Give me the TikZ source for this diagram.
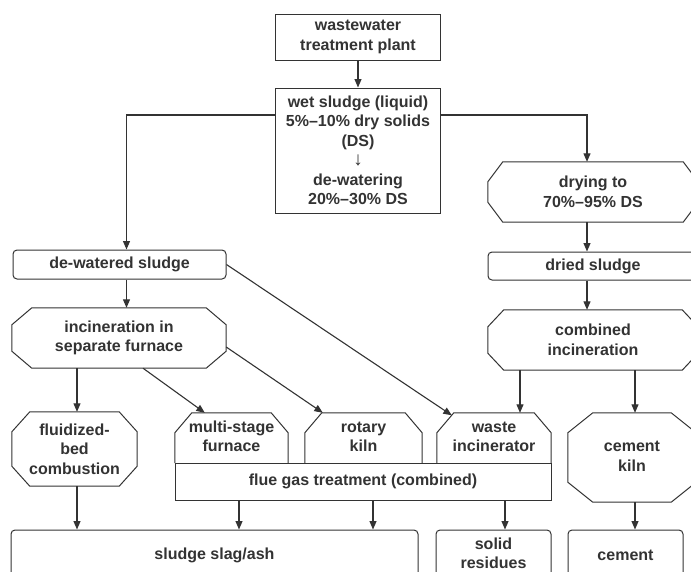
\documentclass[tikz,border=0pt]{standalone}
\usepackage{fontspec}
\setmainfont{Liberation Sans}
\usetikzlibrary{arrows.meta}
\definecolor{ink}{HTML}{333333}
\newcommand{\drawoct}[3]{\draw[boxline] ([xshift=#2]#1.north west) -- ([xshift=-#2]#1.north east) -- ([yshift=-#3]#1.north east) -- ([yshift=#3]#1.south east) -- ([xshift=-#2]#1.south east) -- ([xshift=#2]#1.south west) -- ([yshift=#3]#1.south west) -- ([yshift=-#3]#1.north west) -- cycle;}
\newcommand{\drawtopcham}[3]{\draw[boxline] (#1.south west) -- ([yshift=-#3]#1.north west) -- ([xshift=#2]#1.north west) -- ([xshift=-#2]#1.north east) -- ([yshift=-#3]#1.north east) -- (#1.south east);}
\newcommand{\shiftedtext}[2]{\raisebox{#1}{\begin{tabular}{@{}c@{}}#2\end{tabular}}}
\begin{document}
\begin{tikzpicture}[x=1pt,y=-1pt,
  txt/.style={font=\fontsize{16}{19.5}\selectfont\bfseries, text=ink, align=center, inner sep=0pt},
  box/.style={txt, draw=ink, line width=1pt, rectangle},
  rbox/.style={box, rounded corners=4pt},
  shp/.style={txt, rectangle},
  boxline/.style={draw=ink, line width=1pt},
  arr/.style={draw=ink, line width=1.1pt, -{Triangle[length=8.5pt,width=7pt]}}]
\useasboundingbox (0,0) rectangle (691,571);
\clip (0,0) rectangle (691,571);
\fill[white] (0,0) rectangle (691,571);

% nodes
\node[box, minimum width=165, minimum height=46] (top) at (358,37) {wastewater\\treatment plant};
\node[box, minimum width=165, minimum height=125] (wet) at (358,150.5) {wet sludge (liquid)\\5\%–10\% dry solids\\(DS)\\{\fontsize{19}{19}\selectfont\mdseries ↓}\\de-watering\\20\%–30\% DS};
\node[rbox, minimum width=213, minimum height=29] (dewatered) at (119.5,264.5) {de-watered sludge};
\node[shp, minimum width=210, minimum height=60] (drying) at (593,192) {drying to\\70\%–95\% DS};
\drawoct{drying}{15}{20}
\node[rbox, minimum width=210, minimum height=28] (dried) at (593,266) {dried sludge};
\node[shp, minimum width=210, minimum height=60] (combined) at (593,340) {combined\\incineration};
\drawoct{combined}{16}{17}
\node[shp, minimum width=214, minimum height=60] (incin) at (119,338) {incineration in\\separate furnace};
\drawoct{incin}{20}{17}
\node[shp, minimum width=125, minimum height=74] (fluid) at (74.5,449) {fluidized-\\bed\\combustion};
\drawoct{fluid}{18}{20}
\node[shp, minimum width=113, minimum height=50] (multi) at (231.5,438) {\shiftedtext{-4pt}{multi-stage\\furnace}};
\drawtopcham{multi}{17}{20}
\node[shp, minimum width=117, minimum height=50] (rotary) at (363.5,438) {\shiftedtext{-4pt}{rotary\\kiln}};
\drawtopcham{rotary}{17}{20}
\node[shp, minimum width=114, minimum height=50] (waste) at (494,438) {\shiftedtext{-4pt}{waste\\incinerator}};
\drawtopcham{waste}{17}{20}
\node[box, minimum width=376, minimum height=37] (flue) at (363,481.5) {\raisebox{-3pt}{flue gas treatment (combined)}};
\node[shp, minimum width=128, minimum height=89] (ckiln) at (632,457.5) {\shiftedtext{-6pt}{cement\\kiln}};
\drawoct{ckiln}{25}{20}
\node[rbox, minimum width=407, minimum height=50] (slag) at (214.5,555) {sludge slag/ash};
\node[rbox, minimum width=115, minimum height=50] (solid) at (493.5,555) {\shiftedtext{3.5pt}{solid\\residues}};
\node[rbox, minimum width=115, minimum height=50] (cement) at (625.5,555) {cement};

% helper coordinates
\coordinate (jl) at (126.5,115);
\coordinate (jr) at (587,115);
\coordinate (xa) at (77,0);
\coordinate (xc1) at (520,0);
\coordinate (xc2) at (635,0);
\coordinate (xf1) at (239,0);
\coordinate (xf2) at (373,0);
\coordinate (xf3) at (505,0);

% connectors
\draw[arr] (top.south) -- (wet.north);
\draw[arr] (wet.west |- jl) -| (jl |- dewatered.north);
\draw[arr] (wet.east |- jr) -| (jr |- drying.north);
\draw[arr] (jr |- drying.south) -- (jr |- dried.north);
\draw[arr] (jr |- dried.south) -- (jr |- combined.north);
\draw[arr] (jl |- dewatered.south) -- (jl |- incin.north);
\draw[arr] (dewatered.east) -- ([xshift=15pt,yshift=-2.5pt]waste.north west);
\draw[arr] (xa |- incin.south) -- (xa |- fluid.north);
\draw[arr] ([xshift=24pt]incin.south) -- ([xshift=30pt]multi.north west);
\draw[arr] ([yshift=-9pt]incin.east) -- ([xshift=18pt]rotary.north west);
\draw[arr] (xc1 |- combined.south) -- (xc1 |- waste.north);
\draw[arr] (xc2 |- combined.south) -- (xc2 |- ckiln.north);
\draw[arr] (xa |- fluid.south) -- (xa |- slag.north);
\draw[arr] (xf1 |- flue.south) -- (xf1 |- slag.north);
\draw[arr] (xf2 |- flue.south) -- (xf2 |- slag.north);
\draw[arr] (xf3 |- flue.south) -- (xf3 |- solid.north);
\draw[arr] (xc2 |- ckiln.south) -- (xc2 |- cement.north);
\end{tikzpicture}
\end{document}
